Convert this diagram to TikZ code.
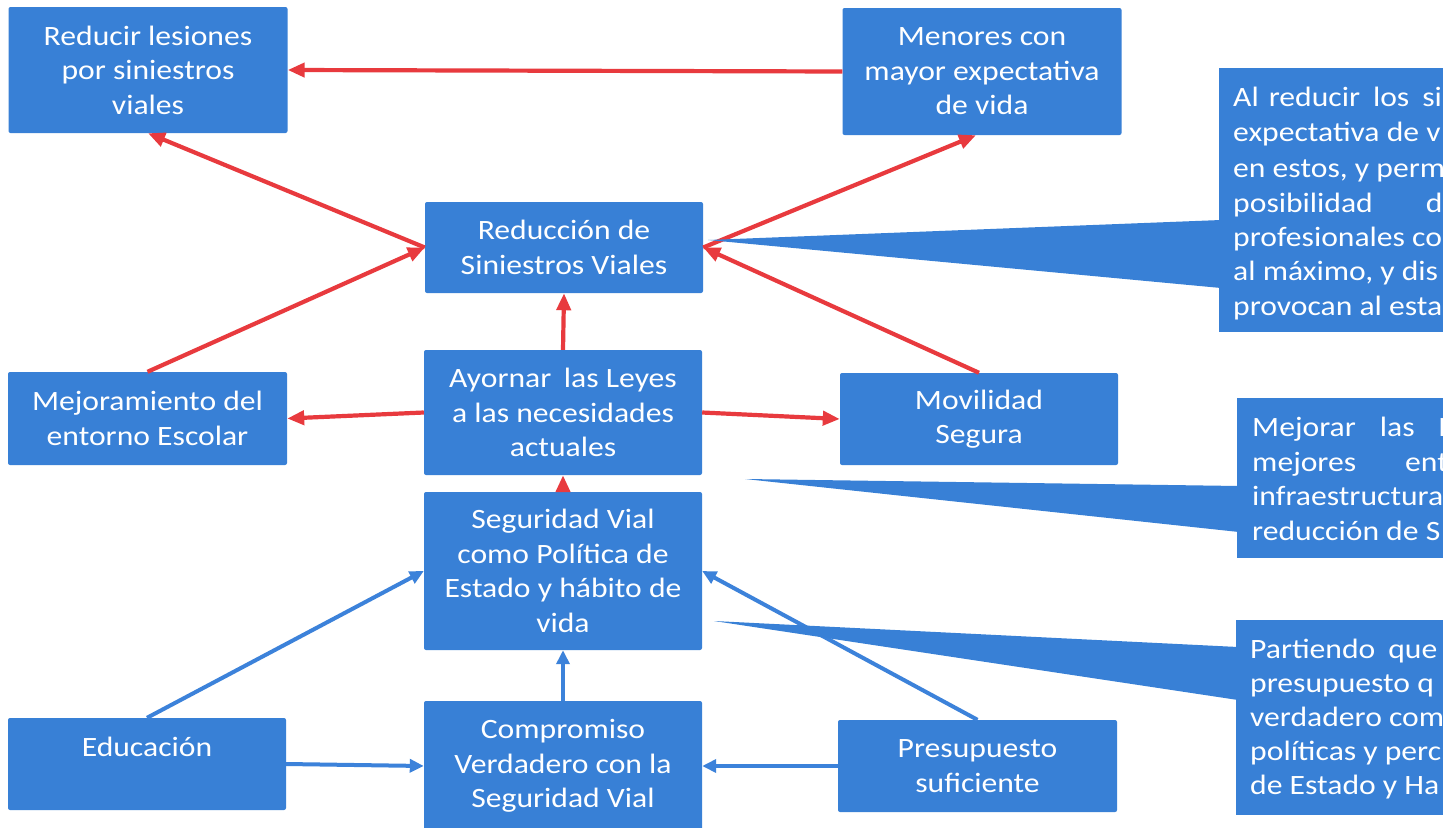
\documentclass[tikz,border=0pt]{standalone}
\usepackage{fontspec}
\setmainfont{Carlito}[FakeStretch=1.13]
\usetikzlibrary{arrows.meta}
\definecolor{boxblue}{RGB}{56,128,214}
\definecolor{arrred}{RGB}{232,58,62}
\definecolor{arrblue}{RGB}{60,130,218}
\begin{document}
\begin{tikzpicture}[x=1pt,y=-1pt,
  box/.style={fill=boxblue, rounded corners=2pt, text=white, align=center,
    minimum width=279pt, inner sep=0pt, font=\fontsize{28}{34.5}\selectfont},
  redarr/.style={draw=arrred, line width=4.2pt, -{Triangle[length=17pt,width=14pt]}},
  bluearr/.style={draw=arrblue, line width=4pt, -{Triangle[length=14pt,width=13pt]}},
  ctext/.style={text=white, anchor=base west, inner sep=0pt, font=\fontsize{28}{34.5}\selectfont},
  callbox/.style={fill=boxblue, anchor=north west, inner sep=0pt}]
\useasboundingbox (0,0) rectangle (1447,827);
\clip (0,0) rectangle (1447,827);
\fill[white] (0,0) rectangle (1447,827);

% boxes
\node[box, minimum height=126pt] (red) at (148,70) {Reducir lesiones\\por siniestros\\viales};
\node[box, minimum height=127pt] (men) at (982,71.5) {Menores con\\mayor expectativa\\de vida};
\node[box, minimum height=91pt, minimum width=278pt] (redu) at (564,247.5) {Reducción de\\Siniestros Viales};
\node[box, minimum height=125pt, minimum width=278pt] (ay) at (563,412.5) {Ayornar\hspace{0.45em}las Leyes\\a las necesidades\\actuales};
\node[box, minimum height=93pt] (mej) at (147.5,418.5) {Mejoramiento del\\entorno Escolar};
\node[box, minimum height=92pt, minimum width=278pt] (mov) at (979,419) {Movilidad\\Segura};
\node[box, minimum height=158pt, minimum width=278pt] (seg) at (563,571) {Seguridad Vial\\como Política de\\Estado y hábito de\\vida};
\node[box, minimum height=92pt, minimum width=278pt] (edu) at (147,764) {Educación\\\mbox{}};
\node[box, minimum height=130pt, minimum width=278pt] (comp) at (563,766) {Compromiso\\Verdadero con la\\Seguridad Vial};
\node[box, minimum height=92pt] (pres) at (977.5,766) {Presupuesto\\suficiente};

% red connectors
\draw[redarr] (men.west) -- (red.east);
\draw[redarr] (redu.west) -- (red.south);
\draw[redarr] (redu.east) -- ([xshift=-6pt]men.south);
\draw[redarr] (mej.north) -- (redu.west);
\draw[redarr] (mov.north) -- (redu.east);
\draw[redarr] (ay.north) -- (redu.south);
\draw[redarr] (ay.west) -- (mej.east);
\draw[redarr] (ay.east) -- (mov.west);
\draw[redarr] (seg.north) -- (ay.south);

% blue connectors
\draw[bluearr] (edu.north) -- (seg.west);
\draw[bluearr] (comp.north) -- (seg.south);
\draw[bluearr] (pres.north) -- (seg.east);
\draw[bluearr] (edu.east) -- (comp.west);
\draw[bluearr] (pres.west) -- (comp.east);

% callout A
\node[callbox, minimum width=224pt, minimum height=264pt] (ca) at (1219,68) {};
\coordinate (tipa) at (708,240);
\fill[boxblue] (tipa) -- ([xshift=2pt,yshift=-152pt]ca.north west) -- ([xshift=2pt,yshift=-220pt]ca.north west) -- cycle;
\begin{scope}
\clip (ca.south west) rectangle (ca.north east);
\node[ctext] (a1) at (1233,106) {Al\hspace{10pt}reducir\hspace{13pt}los\hspace{13pt}si};
\node[ctext] (a2) at (1233,141) {expectativa de v};
\node[ctext] (a3) at (1233,177) {en estos, y perm};
\node[ctext] (a4) at (1233,212) {posibilidad\hspace{53pt}de};
\node[ctext] (a5) at (1233,246) {profesionales co};
\node[ctext] (a6) at (1233,280) {al máximo, y dis};
\node[ctext] (a7) at (1233,315) {provocan al esta};
\end{scope}

% callout B
\node[callbox, minimum width=206pt, minimum height=160pt] (cb) at (1237,398) {};
\coordinate (tipb) at (745,479);
\fill[boxblue] (tipb) -- ([xshift=2pt,yshift=-88pt]cb.north west) -- ([xshift=2pt,yshift=-134pt]cb.north west) -- cycle;
\begin{scope}
\clip (cb.south west) rectangle (cb.north east);
\node[ctext] (b1) at (1252,436) {Mejorar\hspace{24pt}las\hspace{24pt}L};
\node[ctext] (b2) at (1252,471) {mejores\hspace{49pt}ent};
\node[ctext] (b3) at (1252,505) {infraestructura};
\node[ctext] (b4) at (1252,540) {reducción de S};
\end{scope}

% callout C
\node[callbox, minimum width=207pt, minimum height=195pt] (cc) at (1236,620) {};
\coordinate (tipc) at (714,621);
\fill[boxblue] (tipc) -- ([xshift=2pt,yshift=-27pt]cc.north west) -- ([xshift=2pt,yshift=-80pt]cc.north west) -- cycle;
\begin{scope}
\clip (cc.south west) rectangle (cc.north east);
\node[ctext] (c1) at (1250,658) {Partiendo\hspace{13pt}que};
\node[ctext] (c2) at (1250,692) {presupuesto q};
\node[ctext] (c3) at (1250,726) {verdadero com};
\node[ctext] (c4) at (1250,760) {políticas y perc};
\node[ctext] (c5) at (1250,794) {de Estado y Ha};
\end{scope}
\end{tikzpicture}
\end{document}
